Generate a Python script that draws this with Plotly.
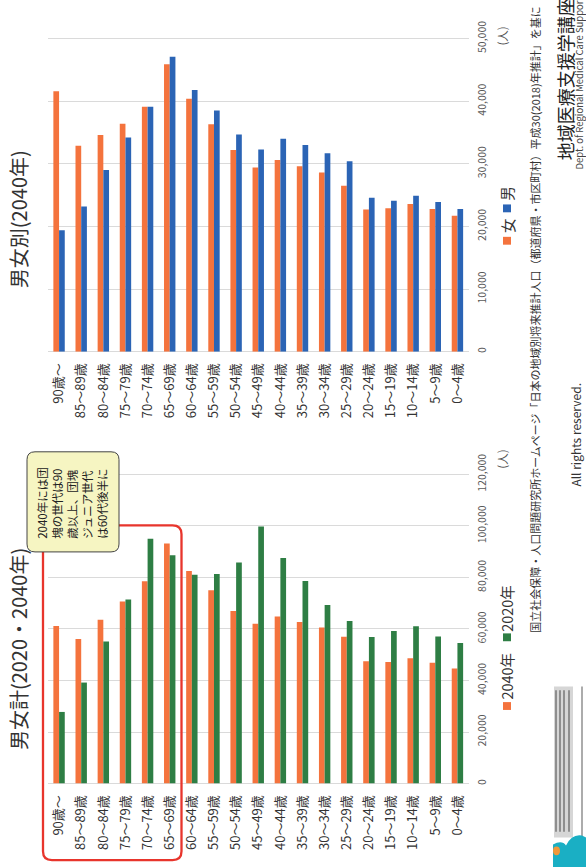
import plotly.graph_objects as go

W, H = 586, 868
FONT = "Noto Sans CJK JP, Noto Sans, sans-serif"

# ---------------- data ----------------
ages = ["90歳～", "85～89歳", "80～84歳", "75～79歳", "70～74歳", "65～69歳",
        "60～64歳", "55～59歳", "50～54歳", "45～49歳", "40～44歳", "35～39歳",
        "30～34歳", "25～29歳", "20～24歳", "15～19歳", "10～14歳", "5～9歳", "0～4歳"]

total_2040 = [61200, 56100, 63600, 70700, 78500, 93200, 82500, 75000, 67000, 62000,
              64800, 62700, 60600, 57000, 47500, 47200, 48600, 46900, 44700]
total_2020 = [27800, 39200, 55100, 71400, 95000, 88600, 81000, 81300, 85800, 99800,
              87500, 78600, 69300, 63100, 56900, 59200, 61100, 57100, 54600]

female_2040 = [41600, 32900, 34600, 36400, 39100, 45900, 40400, 36300, 32200, 29400,
               30600, 29600, 28600, 26500, 22700, 22900, 23600, 22800, 21700]
male_2040 = [19400, 23200, 29000, 34200, 39100, 47100, 41800, 38500, 34700, 32300,
             34000, 33000, 31700, 30400, 24600, 24100, 24900, 23900, 22800]

left_ticks = [0, 20000, 40000, 60000, 80000, 100000, 120000]
right_ticks = [0, 10000, 20000, 30000, 40000, 50000]

ORANGE = "#F4733D"
GREEN = "#2E7E44"
BLUE = "#2B64B5"
GRID = "#DADADA"


def px(x):
    return x / W


def py(y):
    return (H - y) / H


fig = go.Figure()
fig.add_trace(go.Bar(x=ages, y=total_2040, marker_color=ORANGE, name="2040年",
                     xaxis="x", yaxis="y", marker_line_width=0))
fig.add_trace(go.Bar(x=ages, y=total_2020, marker_color=GREEN, name="2020年",
                     xaxis="x", yaxis="y", marker_line_width=0))
fig.add_trace(go.Bar(x=ages, y=female_2040, marker_color=ORANGE, name="女",
                     xaxis="x2", yaxis="y2", marker_line_width=0))
fig.add_trace(go.Bar(x=ages, y=male_2040, marker_color=BLUE, name="男",
                     xaxis="x2", yaxis="y2", marker_line_width=0))

xdom = [px(48), px(468.5)]
xcommon = dict(domain=xdom, tickangle=-90, showgrid=False, showline=False, ticks="",
               tickfont=dict(family=FONT, size=13, color="#333333"), ticklabelstandoff=8,
               fixedrange=True)
ycommon = dict(side="right", tickangle=-90, showgrid=True, gridcolor=GRID, gridwidth=1.3,
               zeroline=True, zerolinecolor=GRID, zerolinewidth=1.3, showline=False,
               tickformat=",d", ticks="",
               tickfont=dict(family=FONT, size=10.5, color="#595959"), ticklabelstandoff=6)

fig.update_layout(
    width=W, height=H, margin=dict(l=0, r=0, t=0, b=0),
    paper_bgcolor="white", plot_bgcolor="white", showlegend=False,
    barmode="group", bargap=0.485, bargroupgap=0,
    xaxis=dict(anchor="y", **xcommon),
    xaxis2=dict(anchor="y2", **xcommon),
    yaxis=dict(anchor="x", domain=[py(783), py(783 - 122 * 2.625)], range=[0, 122000],
               tickvals=left_ticks, **ycommon),
    yaxis2=dict(anchor="x2", domain=[py(343), py(343 - 51 * 6.38)], range=[0, 51000],
                tickvals=right_ticks, **ycommon),
)


def rrect(x0, y0, x1, y1, r):
    X0, X1 = px(x0), px(x1)
    Y0, Y1 = py(y0), py(y1)
    rx, ry = r / W, r / H
    return (f"M {X0 + rx},{Y0} L {X1 - rx},{Y0} Q {X1},{Y0} {X1},{Y0 - ry} "
            f"L {X1},{Y1 + ry} Q {X1},{Y1} {X1 - rx},{Y1} "
            f"L {X0 + rx},{Y1} Q {X0},{Y1} {X0},{Y1 + ry} "
            f"L {X0},{Y0 - ry} Q {X0},{Y0} {X0 + rx},{Y0} Z")


shapes = []
# red highlight frame
shapes.append(dict(type="path", xref="paper", yref="paper", path=rrect(43, 520, 181.5, 861, 9),
                   line=dict(color="#E8352C", width=2.3), fillcolor="rgba(0,0,0,0)"))
# callout box
shapes.append(dict(type="path", xref="paper", yref="paper", path=rrect(27, 445, 119, 547, 8),
                   line=dict(color="#444444", width=1), fillcolor="#F6F5C2"))
# legend squares
for (y0, col) in [(700, ORANGE), (630, GREEN), (226, ORANGE), (193, BLUE)]:
    shapes.append(dict(type="rect", xref="paper", yref="paper", x0=px(503), x1=px(511),
                       y0=py(y0), y1=py(y0 + 8), line=dict(width=0), fillcolor=col))
# blurred logo approximation
shapes.append(dict(type="rect", xref="paper", yref="paper", x0=px(554), x1=px(573),
                   y0=py(684), y1=py(838), line=dict(width=0), fillcolor="rgba(90,90,90,0.25)"))
for xl in [556, 560, 564, 569]:
    shapes.append(dict(type="line", xref="paper", yref="paper", x0=px(xl), x1=px(xl),
                       y0=py(688), y1=py(832), line=dict(color="rgba(40,40,40,0.55)", width=1.5)))
shapes.append(dict(type="line", xref="paper", yref="paper", x0=px(582), x1=px(582),
                   y0=py(684), y1=py(868), line=dict(color="rgba(90,90,90,0.5)", width=2)))
shapes.append(dict(type="path", xref="paper", yref="paper",
                   path=(f"M {px(553)},{py(868)} L {px(553)},{py(845)} Q {px(562)},{py(840)} "
                         f"{px(566)},{py(846)} Q {px(572)},{py(834)} {px(582)},{py(836)} "
                         f"L {px(586)},{py(838)} L {px(586)},{py(868)} Z"),
                   line=dict(width=0), fillcolor="#1AAFC4"))
shapes.append(dict(type="circle", xref="paper", yref="paper", x0=px(553), x1=px(560),
                   y0=py(847), y1=py(856), line=dict(width=0), fillcolor="#F2993A"))

fig.update_layout(shapes=shapes)


def ann(text, x, y, size, color="#333333", xanchor="center", yanchor="middle", align="center"):
    return dict(text=text, x=px(x), y=py(y), xref="paper", yref="paper", showarrow=False,
                textangle=-90, xanchor=xanchor, yanchor=yanchor, align=align,
                font=dict(family=FONT, size=size, color=color))


annotations = [
    ann("男女計(2020・2040年)", 18, 646, 20, "#333333"),
    ann("男女別(2040年)", 18, 208, 20, "#333333"),
    ann("(人)", 502, 453, 11.5, "#555555"),
    ann("(人)", 502, 22, 11.5, "#555555"),
    ann("2040年", 507, 674, 14.5, "#333333"),
    ann("2020年", 507, 605, 14.5, "#333333"),
    ann("女", 507, 215, 14.5, "#333333"),
    ann("男", 507, 182, 14.5, "#333333"),
    ann("2040年には団<br>塊の世代は90<br>歳以上、団塊<br>ジュニア世代<br>は60代後半に",
        72.5, 497.5, 11.5, "#222222", align="left"),
    ann("国立社会保障・人口問題研究所ホームページ「日本の地域別将来推計人口（都道府県・市区町村）平成30(2018)年推計」を基に",
        535, 632, 11, "#333333", yanchor="bottom"),
    ann("All rights reserved.", 575.5, 428, 12, "#333333"),
    ann("地域医療支援学講座", 565, 150, 18, "#222222", yanchor="bottom"),
    ann("Dept. of Regional Medical Care Support", 579, 160, 9.5, "#444444", yanchor="bottom"),
]
fig.update_layout(annotations=annotations)

fig.write_html("out.html")
